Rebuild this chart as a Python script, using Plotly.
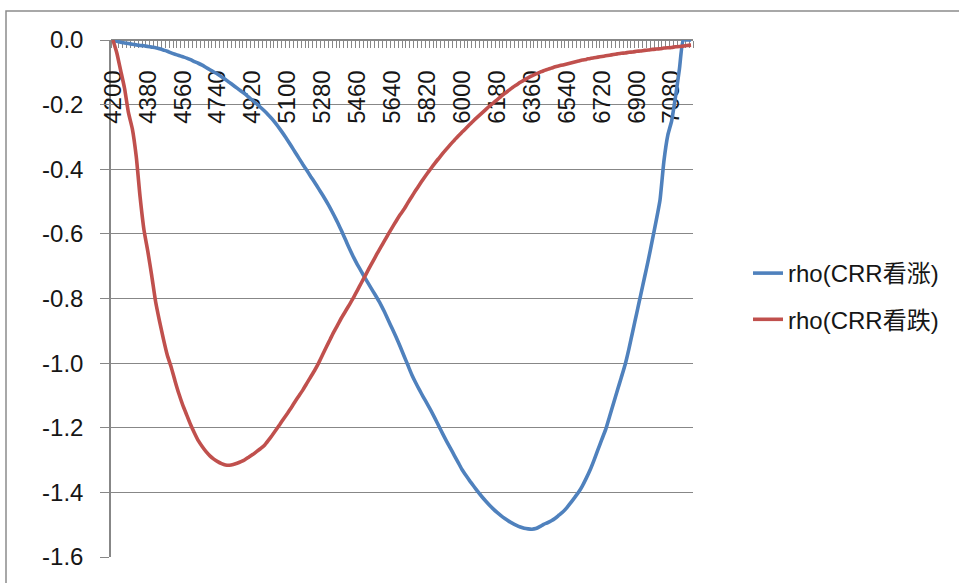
import plotly.graph_objects as go

# Strike prices (x categories), one point every 20
strikes = list(range(4200, 7200, 20))

# rho of the CRR call option at each strike
rho_call = [
    0.000, -0.004, -0.007, -0.009, -0.011, -0.013, -0.015, -0.017, -0.018, -0.020,
    -0.022, -0.024, -0.027, -0.031, -0.035, -0.040, -0.044, -0.048, -0.052, -0.056,
    -0.061, -0.067, -0.072, -0.078, -0.085, -0.092, -0.099, -0.106, -0.114, -0.122,
    -0.131, -0.140, -0.149, -0.158, -0.167, -0.177, -0.187, -0.197, -0.208, -0.219,
    -0.231, -0.244, -0.259, -0.275, -0.292, -0.310, -0.329, -0.348, -0.367, -0.386,
    -0.404, -0.423, -0.441, -0.460, -0.479, -0.499, -0.520, -0.543, -0.567, -0.593,
    -0.620, -0.647, -0.672, -0.695, -0.716, -0.737, -0.757, -0.777, -0.797, -0.818,
    -0.842, -0.868, -0.894, -0.920, -0.948, -0.977, -1.006, -1.035, -1.060, -1.083,
    -1.105, -1.126, -1.148, -1.171, -1.195, -1.219, -1.242, -1.264, -1.286, -1.308,
    -1.330, -1.348, -1.365, -1.381, -1.397, -1.412, -1.426, -1.439, -1.451, -1.462,
    -1.472, -1.481, -1.489, -1.496, -1.502, -1.507, -1.511, -1.513, -1.514, -1.512,
    -1.506, -1.499, -1.494, -1.488, -1.480, -1.470, -1.460, -1.447, -1.432, -1.416,
    -1.400, -1.380, -1.356, -1.330, -1.300, -1.268, -1.236, -1.205, -1.165, -1.125,
    -1.085, -1.045, -1.005, -0.955, -0.900, -0.845, -0.790, -0.735, -0.680, -0.620,
    -0.560, -0.495, -0.375, -0.295, -0.250, -0.175, -0.090, 0.000, 0.000, 0.000,
]

# rho of the CRR put option at each strike
rho_put = [
    0.000, -0.040, -0.095, -0.150, -0.225, -0.275, -0.360, -0.486, -0.588, -0.655,
    -0.730, -0.810, -0.870, -0.925, -0.975, -1.012, -1.055, -1.095, -1.130, -1.160,
    -1.190, -1.216, -1.240, -1.258, -1.274, -1.287, -1.297, -1.305, -1.311, -1.315,
    -1.316, -1.314, -1.310, -1.305, -1.299, -1.291, -1.283, -1.274, -1.265, -1.255,
    -1.240, -1.224, -1.207, -1.190, -1.172, -1.155, -1.137, -1.118, -1.100, -1.082,
    -1.062, -1.042, -1.022, -1.000, -0.975, -0.950, -0.926, -0.902, -0.880, -0.858,
    -0.838, -0.818, -0.797, -0.775, -0.752, -0.730, -0.707, -0.685, -0.663, -0.642,
    -0.621, -0.600, -0.580, -0.560, -0.541, -0.524, -0.504, -0.485, -0.466, -0.448,
    -0.430, -0.413, -0.397, -0.381, -0.366, -0.351, -0.337, -0.323, -0.310, -0.297,
    -0.285, -0.273, -0.261, -0.249, -0.238, -0.227, -0.216, -0.205, -0.195, -0.185,
    -0.175, -0.165, -0.156, -0.147, -0.139, -0.131, -0.124, -0.117, -0.111, -0.105,
    -0.100, -0.095, -0.091, -0.087, -0.083, -0.080, -0.077, -0.074, -0.071, -0.068,
    -0.065, -0.062, -0.060, -0.057, -0.055, -0.053, -0.051, -0.049, -0.047, -0.045,
    -0.043, -0.041, -0.040, -0.038, -0.037, -0.035, -0.034, -0.032, -0.031, -0.029,
    -0.028, -0.027, -0.025, -0.024, -0.023, -0.021, -0.020, -0.019, -0.017, -0.016,
]

series_names = ["rho(CRR看涨)", "rho(CRR看跌)"]
series_colors = ["#4F81BD", "#C0504D"]

# Labelled strikes: every 9th category
x_tickvals = strikes[::9]
x_ticktext = [str(s) for s in x_tickvals]

y_tickvals = [0.0, -0.2, -0.4, -0.6, -0.8, -1.0, -1.2, -1.4, -1.6]
y_ticktext = ["0.0", "-0.2", "-0.4", "-0.6", "-0.8", "-1.0", "-1.2", "-1.4", "-1.6"]

AXIS_GRAY = "#878787"
TEXT_FONT = "Liberation Sans, Arial, Noto Sans CJK SC, sans-serif"
TEXT_COLOR = "#161616"

fig = go.Figure()
for name, vals, color in zip(series_names, [rho_call, rho_put], series_colors):
    fig.add_trace(go.Scatter(
        x=strikes, y=vals, mode="lines", name=name, legendgroup=name,
        line=dict(color=color, width=3.6, shape="spline", smoothing=0.5),
    ))

W, H = 959, 583
L, R, T, B = 111, 266, 40, 26
pw, ph = W - L - R, H - T - B

def px_to_paper_x(px):
    return (px - L) / pw

def px_to_paper_y(py):
    return 1 - (py - T) / ph

fig.update_layout(
    width=W, height=H,
    margin=dict(l=L, r=R, t=T, b=B, pad=0),
    paper_bgcolor="white", plot_bgcolor="white",
    font=dict(family=TEXT_FONT, size=24, color=TEXT_COLOR),
    showlegend=True,
    legend=dict(
        x=px_to_paper_x(748), xanchor="left",
        y=px_to_paper_y(251), yanchor="top",
        font=dict(size=24, family=TEXT_FONT, color=TEXT_COLOR),
        bgcolor="rgba(0,0,0,0)", borderwidth=0,
        tracegroupgap=12, itemwidth=30,
    ),
    # Category axis sits on the y = 0 line at the top, labels hang below it
    xaxis=dict(
        range=[strikes[0] - 10, strikes[-1] + 10],
        anchor="free", position=1.0, side="bottom",
        tickmode="array", tickvals=x_tickvals, ticktext=x_ticktext,
        tickangle=-90,
        ticks="", showgrid=False, zeroline=False,
        showline=True, linecolor=AXIS_GRAY, linewidth=1.5,
        tickfont=dict(size=24, family=TEXT_FONT, color=TEXT_COLOR),
        ticklabelstandoff=20,
        minor=dict(tick0=strikes[0] - 10, dtick=20, ticks="outside",
                   ticklen=7, tickcolor=AXIS_GRAY, tickwidth=1, showgrid=False),
        layer="below traces",
    ),
    yaxis=dict(
        range=[-1.6, 0.0], domain=[0, 1],
        tickmode="array", tickvals=y_tickvals, ticktext=y_ticktext,
        ticks="outside", ticklen=9, tickcolor=AXIS_GRAY, tickwidth=1.2,
        showgrid=True, gridcolor=AXIS_GRAY, gridwidth=1.2,
        zeroline=False,
        showline=True, linecolor=AXIS_GRAY, linewidth=1.5,
        tickfont=dict(size=24, family=TEXT_FONT, color=TEXT_COLOR),
        ticklabelstandoff=12,
        layer="below traces",
    ),
    shapes=[dict(
        type="rect", xref="paper", yref="paper",
        x0=px_to_paper_x(6), x1=px_to_paper_x(980),
        y0=px_to_paper_y(600), y1=px_to_paper_y(11),
        line=dict(color="#8c8c8c", width=1.5), fillcolor="rgba(0,0,0,0)",
        layer="below",
    )],
)

fig.write_html("out.html")
